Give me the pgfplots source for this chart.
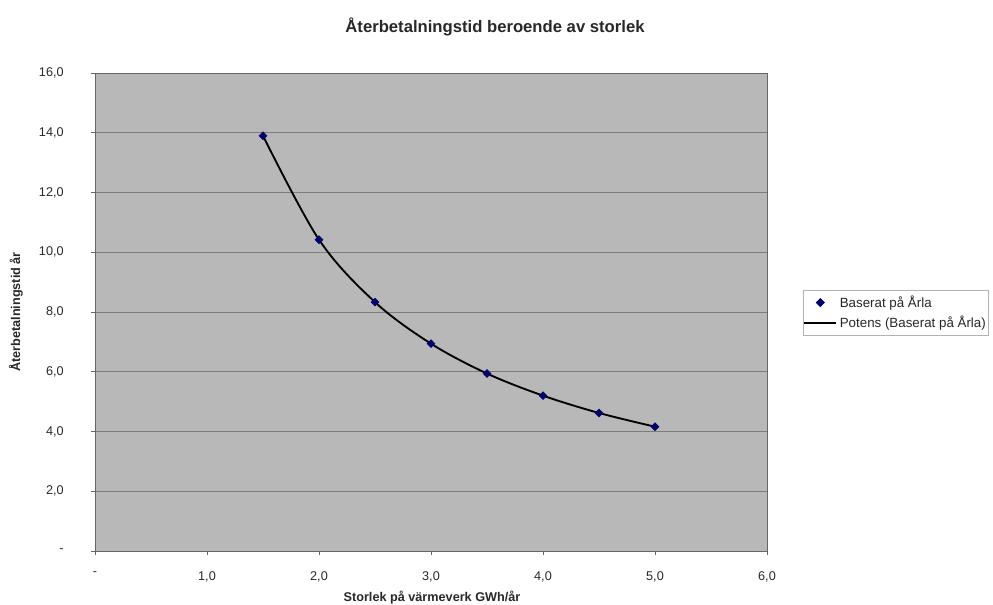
\documentclass[border=0pt]{standalone}
\usepackage{fontspec}
\setmainfont{Liberation Sans}
\usepackage{pgfplots}
\pgfplotsset{compat=1.18}
\definecolor{plotbg}{RGB}{184,184,184}
\definecolor{navy}{RGB}{0,0,110}
\definecolor{gridc}{RGB}{125,125,125}
\definecolor{txt}{RGB}{40,40,40}
\pgfplotsset{
  mylinelegend/.style={legend image code/.code={\draw[##1] (0cm,0cm) -- (0.84cm,0cm);}},
  mymarklegend/.style={legend image code/.code={\draw[##1] plot coordinates {(0.42cm,0cm)};}},
}
\begin{document}
\begin{tikzpicture}[x=0.75pt,y=0.75pt]
\useasboundingbox (0,0) rectangle (993,605);
\begin{axis}[
  at={(71.25pt,40.5pt)}, anchor=south west,
  scale only axis, width=504pt, height=358.5pt,
  xmin=0, xmax=6, ymin=0, ymax=16,
  xtick={0,1,2,3,4,5,6},
  xticklabels={-,{1,0},{2,0},{3,0},{4,0},{5,0},{6,0}},
  ytick={0,2,4,6,8,10,12,14,16},
  yticklabels={-,{2,0},{4,0},{6,0},{8,0},{10,0},{12,0},{14,0},{16,0}},
  ymajorgrids,
  grid style={gridc, line width=0.6pt},
  axis background/.style={fill=plotbg},
  axis line style={draw=gray!80!black, line width=0.6pt},
  tick style={draw=gray!80!black, line width=0.5pt},
  tick align=outside, major tick length=3pt,
  xtick pos=bottom, ytick pos=left,
  ticklabel style={font=\fontsize{9.5}{11}\selectfont, text=txt},
  yticklabel style={xshift=-17pt},
  xticklabel style={yshift=-9pt},
  legend style={at={(1.0536,0.546)}, anchor=north west, draw=gray!60,
    line width=0.6pt, fill=white, font=\fontsize{10}{12}\selectfont,
    text=txt, inner xsep=0pt, inner ysep=2pt, row sep=1pt, cells={anchor=west}},
  legend cell align=left,
]
\addplot[only marks, mark=square*, mark options={rotate=45}, mark size=2.1pt, color=navy, mymarklegend] coordinates {
  (1.5,13.9) (2.0,10.42) (2.5,8.33) (3.0,6.94) (3.5,5.94) (4.0,5.20) (4.5,4.62) (5.0,4.16)
};
\addlegendentry{Baserat på Årla}
\addplot[black, line width=1.4pt, smooth, tension=0.55, mylinelegend] coordinates {
  (1.5,13.9) (2.0,10.42) (2.5,8.33) (3.0,6.94) (3.5,5.94) (4.0,5.20) (4.5,4.62) (5.0,4.16)
};
\addlegendentry{Potens (Baserat på Årla)}
\end{axis}
% titles
\node[font=\bfseries\fontsize{12.5}{14}\selectfont, text=txt] at (495,578) {Återbetalningstid beroende av storlek};
\node[font=\bfseries\fontsize{9.5}{11}\selectfont, text=txt] at (432,7) {Storlek på värmeverk GWh/år};
\node[font=\bfseries\fontsize{9.5}{11}\selectfont, text=txt, rotate=90] at (16,293) {Återbetalningstid år};
\end{tikzpicture}
\end{document}
